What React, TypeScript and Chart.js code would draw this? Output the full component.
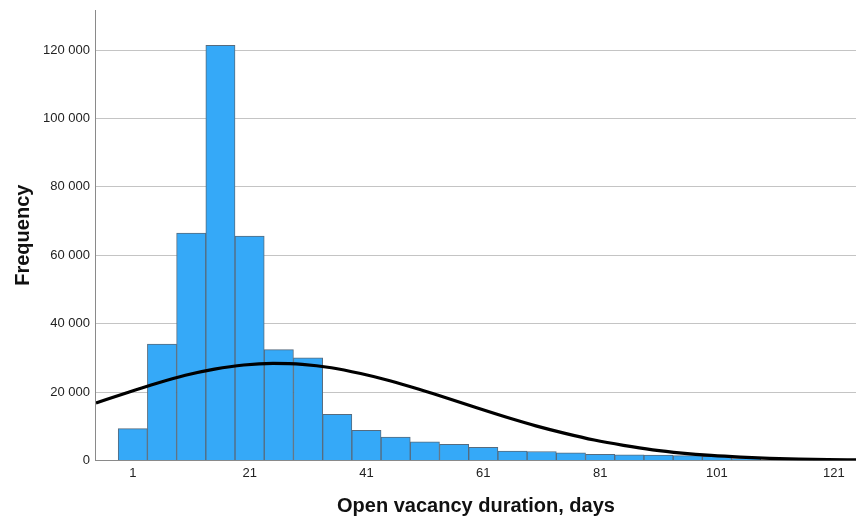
import React, { useEffect, useRef } from "react";
import { Chart, registerables } from "chart.js";

Chart.register(...registerables);

// Histogram bins (5-day bins, centred at 1, 6, 11, ...)
const binCenters = [1, 6, 11, 16, 21, 26, 31, 36, 41, 46, 51, 56, 61, 66, 71, 76, 81, 86, 91, 96, 101, 106];
const binCounts = [
  9300, 34000, 66500, 121400, 65600, 32400, 30000, 13500, 8800, 6800, 5400,
  4700, 3800, 2700, 2600, 2250, 1800, 1650, 1550, 1400, 1200, 500,
];

// Normal curve
const curveDays = [
  -5.3, 0, 5, 10, 15, 20, 25, 30, 35, 40, 45, 50, 55, 60, 65, 70, 75, 80, 85,
  90, 95, 100, 105, 110, 115, 120, 124.8,
];
const curveValues = [
  16800, 19800, 22500, 24900, 26700, 27900, 28350, 28100, 27100, 25400, 23300,
  20800, 18100, 15300, 12600, 10100, 7900, 5950, 4400, 3100, 2150, 1450, 950,
  600, 380, 230, 150,
];

const xTickValues = [1, 21, 41, 61, 81, 101, 121];
const yTickValues = [0, 20000, 40000, 60000, 80000, 100000, 120000];

const fmt = (v: number) =>
  String(Math.round(v)).replace(/\B(?=(\d{3})+(?!\d))/g, " ");

export default function App() {
  const ref = useRef<HTMLCanvasElement | null>(null);

  useEffect(() => {
    if (!ref.current) return;
    const font = "'Liberation Sans', Arial, Helvetica, sans-serif";
    const chart = new Chart(ref.current, {
      data: {
        datasets: [
          {
            type: "line",
            data: curveDays.map((d, i) => ({ x: d, y: curveValues[i] })),
            borderColor: "#000000",
            borderWidth: 3.2,
            pointRadius: 0,
            tension: 0.4,
            cubicInterpolationMode: "monotone",
            fill: false,
            order: 0,
          },
          {
            type: "bar",
            data: binCenters.map((d, i) => ({ x: d, y: binCounts[i] })),
            backgroundColor: "#35a9f8",
            borderColor: "#566b7e",
            borderWidth: 1,
            categoryPercentage: 1,
            barPercentage: 1,
            order: 1,
          },
        ],
      },
      options: {
        animation: false,
        responsive: false,
        devicePixelRatio: 1,
        layout: { padding: { left: 10, top: 10, right: 0, bottom: 0 } },
        plugins: { legend: { display: false }, tooltip: { enabled: false } },
        scales: {
          x: {
            type: "linear",
            offset: false,
            min: -5.3,
            max: 124.8,
            afterBuildTicks: (s: any) => {
              s.ticks = xTickValues.map((v) => ({ value: v }));
            },
            grid: { display: false, drawTicks: false, offset: false },
            border: { display: true, color: "#8a8a8a", width: 1 },
            ticks: {
              padding: 5,
              color: "#222222",
              font: { family: font, size: 13 },
              maxRotation: 0,
              autoSkip: false,
            },
            title: {
              display: true,
              text: "Open vacancy duration, days",
              color: "#111111",
              font: { family: font, size: 20, weight: "bold" },
              padding: { top: 8, bottom: 0 },
            },
          },
          y: {
            type: "linear",
            min: 0,
            max: 131700,
            afterBuildTicks: (s: any) => {
              s.ticks = yTickValues.map((v) => ({ value: v }));
            },
            grid: { color: "#c4c4c4", lineWidth: 1, drawTicks: false },
            border: { display: true, color: "#8a8a8a", width: 1 },
            ticks: {
              padding: 6,
              color: "#222222",
              font: { family: font, size: 13, lineHeight: 0.6 },
              callback: (v: any) => fmt(Number(v)),
            },
            title: {
              display: true,
              text: "Frequency",
              color: "#111111",
              font: { family: font, size: 20, weight: "bold" },
              padding: { top: 1, bottom: 2 },
            },
          },
        },
      },
    } as any);
    return () => chart.destroy();
  }, []);

  return (
    <div style={{ position: "absolute", left: 0, top: 0, width: 856, height: 518, background: "#fff" }}>
      <canvas ref={ref} width={856} height={518} style={{ display: "block" }} />
    </div>
  );
}
